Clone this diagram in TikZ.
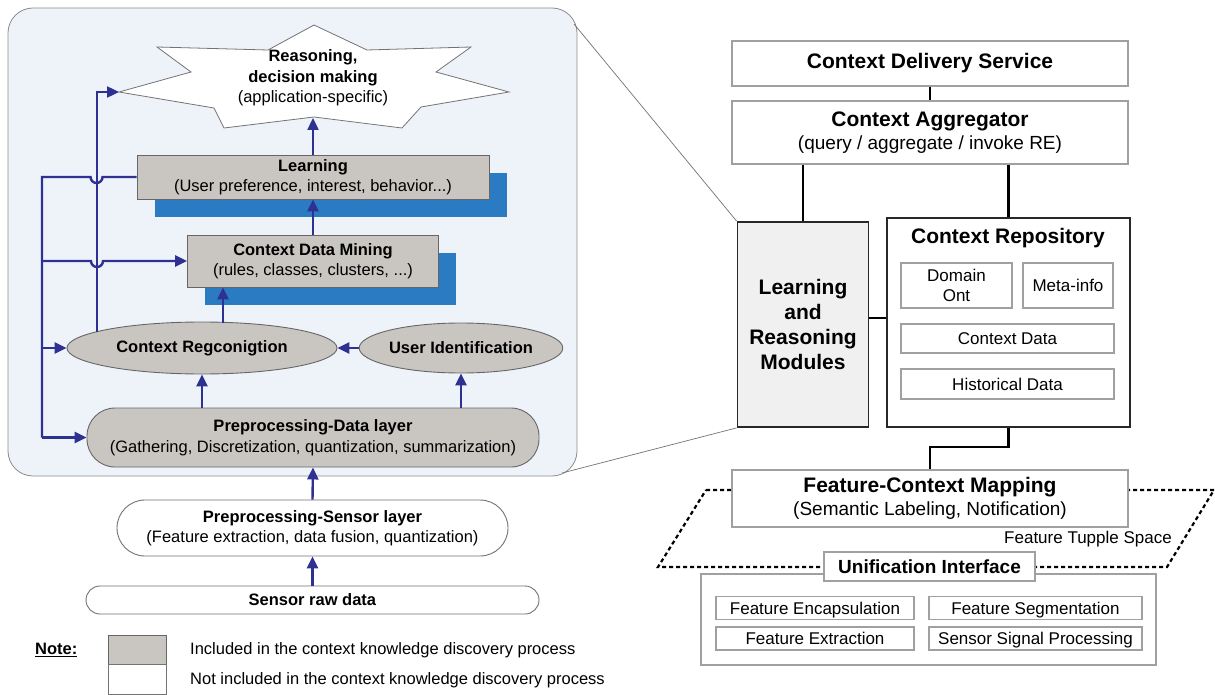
\documentclass[tikz,border=0pt]{standalone}
\usepackage{fontspec}
\setmainfont{Liberation Sans}
\usetikzlibrary{arrows.meta,shapes.geometric}
\definecolor{navy}{RGB}{46,49,146}
\definecolor{panelbg}{RGB}{238,243,250}
\definecolor{boxgray}{RGB}{201,198,193}
\definecolor{shadowblue}{RGB}{42,123,193}
\definecolor{edgegray}{RGB}{160,160,160}
\definecolor{darkedge}{RGB}{40,40,40}
\definecolor{lrfill}{RGB}{240,240,240}
\begin{document}
\begin{tikzpicture}[x=1pt,y=-1pt,
  lf/.style={font=\fontsize{16.5}{20.5}\selectfont},
  mf/.style={font=\fontsize{17}{20}\selectfont},
  bf/.style={font=\fontsize{21}{23.5}\selectfont},
  graybox/.style={draw=black!60,fill=boxgray,line width=0.9pt,inner sep=0pt,align=center,lf},
  shadowbox/.style={fill=shadowblue,draw=none},
  pillbox/.style={draw=black!55,fill=white,line width=0.9pt,inner sep=0pt,align=center,lf},
  arr/.style={draw=navy,line width=2.4pt,-{Triangle[length=12pt,width=11pt]}},
  fbline/.style={draw=navy,line width=2.4pt},
  rbox/.style={draw=edgegray,fill=white,line width=1.4pt,inner sep=0pt,align=center,mf},
  featbox/.style={rbox,text height=12.2pt,text depth=0pt},
  conn/.style={draw=black,line width=2.4pt},
  zoomline/.style={draw=black!55,line width=0.7pt},
  dashline/.style={draw=black,line width=2.2pt,dash pattern=on 4pt off 3pt},
  txt/.style={inner sep=0pt,align=center}]
\useasboundingbox (0,0) rectangle (1215,695);
\fill[white] (0,0) rectangle (1215,695);

% zoom lines
\coordinate (zA) at (574,24);
\coordinate (zB) at (562,473);

% left panel
\draw[draw=black!45,fill=panelbg,line width=0.8pt,rounded corners=25pt] (8,8) rectangle (577,476);

% star
\draw[draw=black!55,fill=white,line width=0.8pt] (314,25) -- (367,50) -- (471,47) -- (436,72) -- (509,92) -- (421,107) -- (402,128) -- (314,117) -- (224,128) -- (214,108) -- (119,92) -- (191,72) -- (157,47) -- (268,50) -- cycle;
\node[txt,lf] (star) at (313,78) {\textbf{Reasoning,}\\\textbf{decision making}\\(application-specific)};
\coordinate (starbot) at (313,118);
\coordinate (starleft) at (119,92);

% learning
\fill[shadowbox] (155,173) rectangle (507,217);
\node[graybox,minimum width=352pt,minimum height=44pt] (learn) at (313,177) {\textbf{Learning}\\(User preference, interest, behavior...)};
% data mining
\fill[shadowbox] (205,253) rectangle (456,305);
\node[graybox,minimum width=251pt,minimum height=52pt] (dm) at (313,261) {\textbf{Context Data Mining}\\(rules, classes, clusters, ...)};

% ellipses
\node[graybox,ellipse,minimum width=270pt,minimum height=52pt] (cr) at (202,348) {\textbf{Context Regconigtion}};
\node[graybox,ellipse,minimum width=196pt,minimum height=50pt] (uid) at (461,348) {\textbf{User Identification}};

% preprocessing data
\node[graybox,rounded corners=28pt,minimum width=452pt,minimum height=59pt] (pre) at (313,437.5) {\textbf{Preprocessing-Data layer}\\(Gathering, Discretization, quantization, summarization)};

% sensor layers
\node[pillbox,rounded corners=28pt,minimum width=391pt,minimum height=56pt] (sl) at (312.5,528) {\textbf{Preprocessing-Sensor layer}\\(Feature extraction, data fusion, quantization)};
\node[pillbox,rounded corners=14pt,minimum width=453pt,minimum height=28pt] (raw) at (312.5,600) {\textbf{Sensor raw data}};

% arrows
\draw[arr] (learn.north) -- (starbot);
\draw[arr] (dm.north) -- (learn.south);
\coordinate (crtop) at (223,322.5);
\draw[arr] (crtop) -- (crtop |- dm.south);
\draw[arr] (uid.west) -- (cr.east);
\draw[arr] (cr.south |- pre.north) -- (cr.south);
\draw[arr] (uid.south |- pre.north) -- (uid.south);
\draw[arr] (sl.north) -- (pre.south);
\draw[arr] (raw.north) -- (sl.south);

% feedback bus
\coordinate (bA) at (42,177);
\coordinate (bB) at (42,261);
\coordinate (bC) at (42,348);
\coordinate (bD) at (42,437.5);
\coordinate (crtl) at (97,332);
\coordinate (sk) at (97,92);
\draw[fbline] (learn.west) -- ++(-34,0) arc[start angle=0,end angle=-180,radius=6pt] -- (bA) -- (bD);
\draw[arr] (bD) -- (pre.west);
\draw[arr] (bB) -- ++(49,0) arc[start angle=-180,end angle=0,radius=6pt] -- (dm.west);
\draw[arr] (bC) -- (cr.west);
\draw[arr] (crtl) -- (sk) -- (starleft);

% legend
\node[txt,anchor=west,lf] (note) at (35,650) {\textbf{\underline{Note:}}};
\node[graybox,minimum width=58pt,minimum height=29pt] (lgA) at (137,649.5) {};
\node[pillbox,minimum width=58pt,minimum height=30pt] (lgB) at (137,679) {};
\node[txt,anchor=west,lf] (lgAt) at (190,650) {Included in the context knowledge discovery process};
\node[txt,anchor=west,lf] (lgBt) at (190,680) {Not included in the context knowledge discovery process};

% right side
\node[rbox,bf,minimum width=396pt,minimum height=45pt] (cds) at (930,63.5) {\textbf{Context Delivery Service}};
\node[rbox,bf,minimum width=396pt,minimum height=63pt] (ca) at (930,132.5) {\textbf{Context Aggregator}\\{\fontsize{19}{23}\selectfont (query / aggregate / invoke RE)}};
\draw[conn] (cds.south) -- (ca.north);

\node[draw=darkedge,fill=lrfill,line width=1.8pt,inner sep=0pt,align=center,minimum width=131pt,minimum height=205pt,font=\fontsize{21}{25}\selectfont\bfseries] (lr) at (803,324.5) {Learning\\and\\Reasoning\\Modules};
\node[draw=darkedge,fill=white,line width=1.8pt,inner sep=0pt,minimum width=243pt,minimum height=209pt] (repo) at (1008.5,322.5) {};
\node[txt,bf] (repot) at (1008,238) {\textbf{Context Repository}};
\node[rbox,minimum width=111pt,minimum height=45pt] (dom) at (956.5,285.5) {Domain\\Ont};
\node[rbox,minimum width=90pt,minimum height=45pt] (meta) at (1068,285.5) {Meta-info};
\node[featbox,minimum width=213pt,minimum height=29pt] (cdata) at (1007.5,338.5) {Context Data};
\node[featbox,minimum width=213pt,minimum height=30pt] (hdata) at (1007.5,384) {Historical Data};

\draw[conn] (lr.north |- ca.south) -- (lr.north);
\draw[conn] (repo.north |- ca.south) -- (repo.north);
\draw[conn] ([yshift=6.5pt]lr.east) -- ([yshift=6.5pt]lr.east -| repo.west);

\draw[zoomline] (zA) -- (lr.north west);
\draw[zoomline] (zB) -- (lr.south west);

% feature tuple space
\draw[dashline] (706,490) -- (1214,490) -- (1167,567) -- (658,567) -- cycle;
\node[rbox,bf,minimum width=396pt,minimum height=57pt] (fcm) at (930,498.5) {\textbf{Feature-Context Mapping}\\{\fontsize{19}{23}\selectfont (Semantic Labeling, Notification)}};
\draw[conn] (repo.south) -- ++(0,19) -| (fcm.north);
\node[txt,mf] (fts) at (1088,539) {Feature Tupple Space};

\node[rbox,minimum width=455pt,minimum height=91pt] (ubox) at (928.5,619.5) {};
\node[rbox,minimum width=211pt,minimum height=29pt,font=\fontsize{19}{22}\selectfont\bfseries] (ui) at (929.5,566.5) {Unification Interface};
\node[featbox,minimum width=198pt,minimum height=23pt] (fe) at (815,608) {Feature Encapsulation};
\node[featbox,minimum width=213pt,minimum height=23pt] (fs) at (1035.5,608) {Feature Segmentation};
\node[featbox,minimum width=198pt,minimum height=23pt] (fx) at (815,638.5) {Feature Extraction};
\node[featbox,minimum width=213pt,minimum height=23pt] (ssp) at (1035.5,638.5) {Sensor Signal Processing};
\end{tikzpicture}
\end{document}
